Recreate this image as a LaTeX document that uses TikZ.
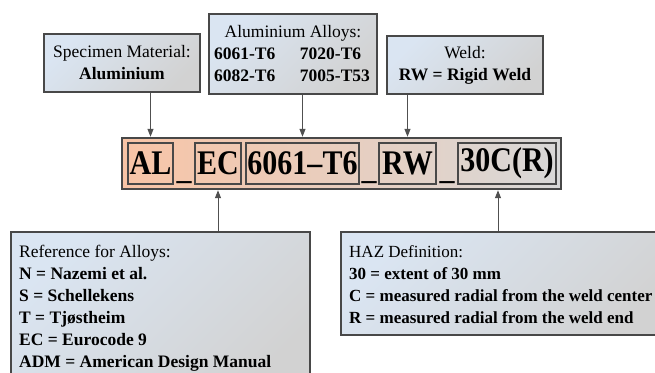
\documentclass[tikz,border=0pt]{standalone}
\usepackage{fontspec}
\setmainfont{Liberation Serif}
\usetikzlibrary{arrows.meta}
\definecolor{bord}{HTML}{484848}
\definecolor{blu}{HTML}{DAE5F2}
\definecolor{gry}{HTML}{D2D2D2}
\definecolor{peach}{HTML}{F8C4A6}
\definecolor{bargry}{HTML}{D8D8D8}
\definecolor{arr}{HTML}{505050}
\newcommand{\tallt}[1]{\scalebox{1}[1.15]{#1}}
\begin{document}
\begin{tikzpicture}[x=1pt,y=-1pt,
  box/.style={draw=bord, line width=1.6pt, top color=blu, bottom color=gry, shading angle=45,
    inner sep=0pt, align=center, font=\fontsize{17.5}{22}\selectfont},
  bar/.style={draw=bord, line width=2.4pt, left color=peach, right color=bargry, inner sep=0pt},
  part/.style={draw=bord, line width=1.6pt, inner sep=0pt, minimum height=41pt,
    font=\bfseries\fontsize{30}{30}\selectfont},
  sep/.style={inner sep=0pt, font=\bfseries\fontsize{30}{30}\selectfont},
  txt/.style={inner sep=0pt, align=left, font=\fontsize{17.5}{22}\selectfont},
  arrow/.style={draw=arr, line width=1pt, -{Triangle[width=6pt,length=8pt]}}]
\useasboundingbox (0,0) rectangle (655,372);
\clip (0,0) rectangle (655,372);
\fill[white] (0,0) rectangle (655,372);
% top boxes
\node[box, minimum width=156pt, minimum height=58pt] (spec) at (122,63)
  {Specimen Material:\\\textbf{Aluminium}};
\node[box, minimum width=168pt, minimum height=80pt] (alloys) at (293,54)
  {Aluminium Alloys:\\
   \textbf{\makebox[86pt][l]{6061-T6}\makebox[72pt][l]{7020-T6}}\\
   \textbf{\makebox[86pt][l]{6082-T6}\makebox[72pt][l]{7005-T53}}};
\node[box, minimum width=156pt, minimum height=58pt] (weld) at (465,65)
  {Weld:\\\textbf{RW = Rigid Weld}};
% bar
\node[bar, minimum width=439pt, minimum height=51pt] (barr) at (341.5,163.5) {};
\node[part, minimum width=45pt] (AL) at (150.5,163.5) {\tallt{AL}};
\node[part, minimum width=46pt] (EC) at (218,163.5) {\tallt{EC}};
\node[part, minimum width=113pt] (alloy) at (302.5,163.5) {\tallt{6061--T6}};
\node[part, minimum width=57pt] (RW) at (407.5,163.5) {\tallt{RW}};
\node[part, minimum width=98pt] (haz) at (507,163.5) {\tallt{30C(R)}};
\node[sep] (u1) at (184,182) {\_};
\node[sep] (u2) at (369,182) {\_};
\node[sep] (u3) at (447,182) {\_};
% bottom boxes
\node[box, minimum width=299pt, minimum height=160pt] (refbox) at (160.5,312) {};
\node[txt, anchor=north west] (reftxt) at (19,245)
  {Reference for Alloys:\\
   \textbf{N = Nazemi et al.}\\
   \textbf{S = Schellekens}\\
   \textbf{T = Tjøstheim}\\
   \textbf{EC = Eurocode 9}\\
   \textbf{ADM = American Design Manual}};
\node[box, minimum width=340pt, minimum height=103pt] (hazbox) at (511,283.5) {};
\node[txt, anchor=north west, font=\fontsize{17}{22}\selectfont] (haztxt) at (349,245)
  {HAZ Definition:\\
   \textbf{30 = extent of 30 mm}\\
   \textbf{C = measured radial from the weld center}\\
   \textbf{R = measured radial from the weld end}};
% arrows
\draw[arrow] (spec.south -| AL.center) -- (AL.center |- barr.north);
\draw[arrow] (alloys.south -| alloy.center) -- (alloy.center |- barr.north);
\draw[arrow] (weld.south -| RW.center) -- (RW.center |- barr.north);
\draw[arrow] (refbox.north -| EC.center) -- (EC.center |- barr.south);
\draw[arrow] ([xshift=-9pt]haz.center |- hazbox.north) -- ([xshift=-9pt]haz.center |- barr.south);
\end{tikzpicture}
\end{document}
